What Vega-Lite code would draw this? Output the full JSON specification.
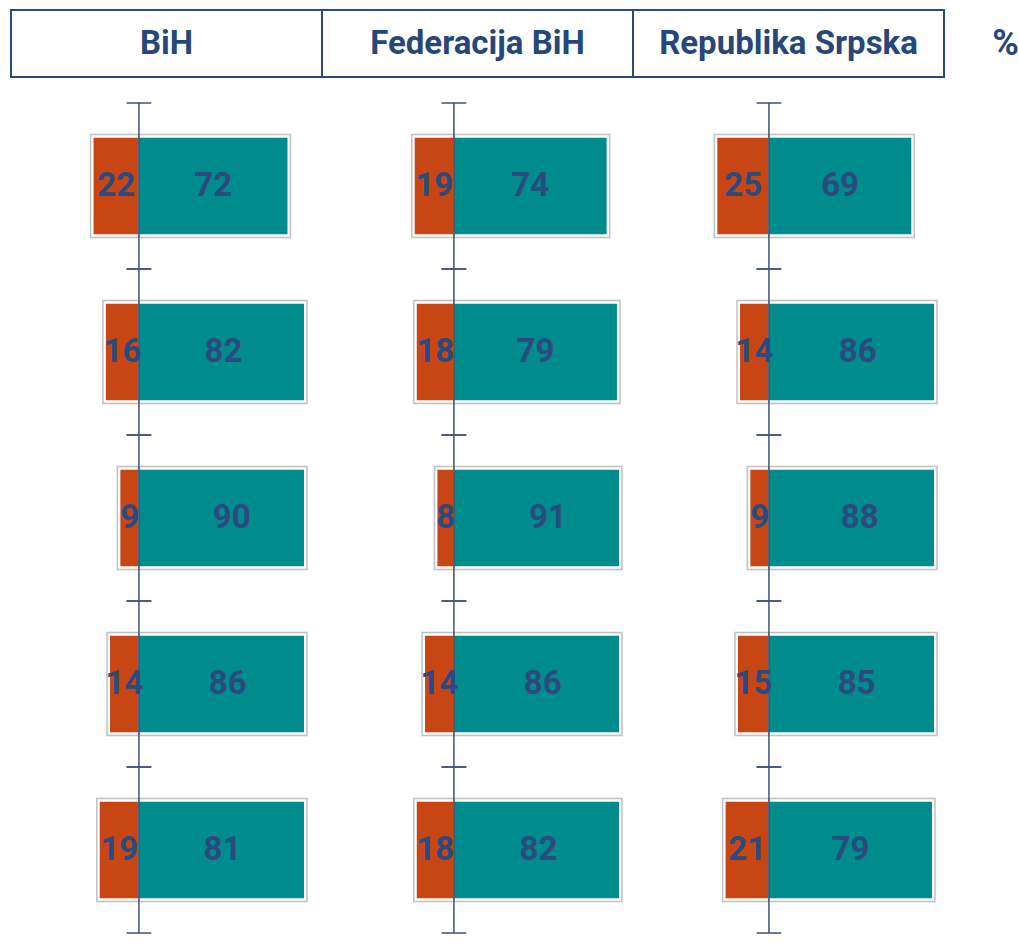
{
  "$schema": "https://vega.github.io/schema/vega-lite/v6.json",
  "padding": {"left": 10, "top": 9, "right": 0, "bottom": 0},
  "background": "white",
  "datasets": {"survey": [
    {"region": "BiH", "item": "1", "neg": 22, "pos": 72},
    {"region": "BiH", "item": "2", "neg": 16, "pos": 82},
    {"region": "BiH", "item": "3", "neg": 9, "pos": 90},
    {"region": "BiH", "item": "4", "neg": 14, "pos": 86},
    {"region": "BiH", "item": "5", "neg": 19, "pos": 81},
    {"region": "Federacija BiH", "item": "1", "neg": 19, "pos": 74},
    {"region": "Federacija BiH", "item": "2", "neg": 18, "pos": 79},
    {"region": "Federacija BiH", "item": "3", "neg": 8, "pos": 91},
    {"region": "Federacija BiH", "item": "4", "neg": 14, "pos": 86},
    {"region": "Federacija BiH", "item": "5", "neg": 18, "pos": 82},
    {"region": "Republika Srpska", "item": "1", "neg": 25, "pos": 69},
    {"region": "Republika Srpska", "item": "2", "neg": 14, "pos": 86},
    {"region": "Republika Srpska", "item": "3", "neg": 9, "pos": 88},
    {"region": "Republika Srpska", "item": "4", "neg": 15, "pos": 85},
    {"region": "Republika Srpska", "item": "5", "neg": 21, "pos": 79}
  ]},
  "data": {"name": "survey"},
  "vconcat": [
    {
      "width": 933,
      "height": 67,
      "title": {"text": "%", "orient": "right", "angle": 0, "offset": 34, "fontSize": 36, "font": "Roboto", "fontWeight": "bold", "color": "#27477A", "align": "center", "baseline": "middle"},
      "transform": [{"aggregate": [{"op": "count", "as": "n"}], "groupby": ["region"]}],
      "encoding": {
        "x": {"field": "region", "type": "nominal", "sort": ["BiH", "Federacija BiH", "Republika Srpska"], "axis": null, "scale": {"type": "band", "paddingInner": 0, "paddingOuter": 0}}
      },
      "layer": [
        {"mark": {"type": "rect", "fill": "white", "stroke": "#2B4A7A", "strokeWidth": 2}},
        {"mark": {"type": "text", "font": "Roboto", "fontWeight": "bold", "fontSize": 33, "color": "#27477A", "baseline": "middle"}, "encoding": {"text": {"field": "region"}}}
      ]
    },
    {
      "spacing": 18,
      "hconcat": [
        {
          "width": 293, "height": 830,
          "transform": [{"filter": "datum.region === 'BiH'"}],
          "encoding": {"y": {"field": "item", "type": "ordinal", "axis": null, "scale": {"type": "band", "paddingInner": 0, "paddingOuter": 0}}},
          "layer": [
            {"layer": [
              {"mark": {"type": "bar", "fill": "white", "stroke": "#C0C0C0", "strokeWidth": 1.5, "height": {"band": 0.62}, "xOffset": -3},
               "encoding": {"x": {"field": "neg", "type": "quantitative", "axis": null, "scale": {"domain": [-80, 62], "reverse": true}}, "x2": {"datum": 0, "type": "quantitative"}}},
              {"mark": {"type": "bar", "color": "#C84614", "height": {"band": 0.58}},
               "encoding": {"x": {"field": "neg", "type": "quantitative", "axis": null, "scale": {"domain": [-80, 62], "reverse": true}}, "x2": {"datum": 0, "type": "quantitative"}}}
            ]},
            {"layer": [
              {"mark": {"type": "bar", "fill": "white", "stroke": "#C0C0C0", "strokeWidth": 1.5, "height": {"band": 0.62}, "xOffset": 3},
               "encoding": {"x": {"field": "pos", "type": "quantitative", "axis": null, "scale": {"domain": [-62, 80], "clamp": true}}, "x2": {"datum": 0, "type": "quantitative"}}},
              {"mark": {"type": "bar", "color": "#008B8C", "height": {"band": 0.58}},
               "encoding": {"x": {"field": "pos", "type": "quantitative", "axis": null, "scale": {"domain": [-62, 80], "clamp": true}}, "x2": {"datum": 0, "type": "quantitative"}}},
              {"mark": {"type": "rule", "color": "#3F5277", "strokeWidth": 1.5},
               "encoding": {"x": {"datum": 0, "type": "quantitative", "axis": null, "scale": {"domain": [-62, 80], "clamp": true}}, "y": {"field": "item", "type": "ordinal", "bandPosition": 0}, "y2": {"field": "item", "bandPosition": 1}}},
              {"mark": {"type": "rule", "color": "#3F5277", "strokeWidth": 1.5},
               "encoding": {"x": {"datum": -6, "type": "quantitative", "axis": null, "scale": {"domain": [-62, 80], "clamp": true}}, "x2": {"datum": 6, "type": "quantitative"}, "y": {"field": "item", "type": "ordinal", "bandPosition": 0}}},
              {"mark": {"type": "rule", "color": "#3F5277", "strokeWidth": 1.5},
               "encoding": {"x": {"datum": -6, "type": "quantitative", "axis": null, "scale": {"domain": [-62, 80], "clamp": true}}, "x2": {"datum": 6, "type": "quantitative"}, "y": {"field": "item", "type": "ordinal", "bandPosition": 1}}}
            ]},
            {"mark": {"type": "text", "font": "Roboto", "fontWeight": "bold", "fontSize": 33, "color": "#2B4A7E", "baseline": "middle", "align": "center"},
             "encoding": {"x": {"field": "pos", "type": "quantitative", "axis": null, "scale": {"domain": [-124, 160]}}, "text": {"field": "pos"}}},
            {"mark": {"type": "text", "font": "Roboto", "fontWeight": "bold", "fontSize": 33, "color": "#2B4A7E", "baseline": "middle", "align": "center"},
             "encoding": {"x": {"field": "neg", "type": "quantitative", "axis": null, "scale": {"domain": [-160, 124], "reverse": true}}, "text": {"field": "neg"}}}
          ],
          "resolve": {"scale": {"x": "independent"}}
        },
        {
          "width": 293, "height": 830,
          "transform": [{"filter": "datum.region === 'Federacija BiH'"}],
          "encoding": {"y": {"field": "item", "type": "ordinal", "axis": null, "scale": {"type": "band", "paddingInner": 0, "paddingOuter": 0}}},
          "layer": [
            {"layer": [
              {"mark": {"type": "bar", "fill": "white", "stroke": "#C0C0C0", "strokeWidth": 1.5, "height": {"band": 0.62}, "xOffset": -3},
               "encoding": {"x": {"field": "neg", "type": "quantitative", "axis": null, "scale": {"domain": [-80, 62], "reverse": true}}, "x2": {"datum": 0, "type": "quantitative"}}},
              {"mark": {"type": "bar", "color": "#C84614", "height": {"band": 0.58}},
               "encoding": {"x": {"field": "neg", "type": "quantitative", "axis": null, "scale": {"domain": [-80, 62], "reverse": true}}, "x2": {"datum": 0, "type": "quantitative"}}}
            ]},
            {"layer": [
              {"mark": {"type": "bar", "fill": "white", "stroke": "#C0C0C0", "strokeWidth": 1.5, "height": {"band": 0.62}, "xOffset": 3},
               "encoding": {"x": {"field": "pos", "type": "quantitative", "axis": null, "scale": {"domain": [-62, 80], "clamp": true}}, "x2": {"datum": 0, "type": "quantitative"}}},
              {"mark": {"type": "bar", "color": "#008B8C", "height": {"band": 0.58}},
               "encoding": {"x": {"field": "pos", "type": "quantitative", "axis": null, "scale": {"domain": [-62, 80], "clamp": true}}, "x2": {"datum": 0, "type": "quantitative"}}},
              {"mark": {"type": "rule", "color": "#3F5277", "strokeWidth": 1.5},
               "encoding": {"x": {"datum": 0, "type": "quantitative", "axis": null, "scale": {"domain": [-62, 80], "clamp": true}}, "y": {"field": "item", "type": "ordinal", "bandPosition": 0}, "y2": {"field": "item", "bandPosition": 1}}},
              {"mark": {"type": "rule", "color": "#3F5277", "strokeWidth": 1.5},
               "encoding": {"x": {"datum": -6, "type": "quantitative", "axis": null, "scale": {"domain": [-62, 80], "clamp": true}}, "x2": {"datum": 6, "type": "quantitative"}, "y": {"field": "item", "type": "ordinal", "bandPosition": 0}}},
              {"mark": {"type": "rule", "color": "#3F5277", "strokeWidth": 1.5},
               "encoding": {"x": {"datum": -6, "type": "quantitative", "axis": null, "scale": {"domain": [-62, 80], "clamp": true}}, "x2": {"datum": 6, "type": "quantitative"}, "y": {"field": "item", "type": "ordinal", "bandPosition": 1}}}
            ]},
            {"mark": {"type": "text", "font": "Roboto", "fontWeight": "bold", "fontSize": 33, "color": "#2B4A7E", "baseline": "middle", "align": "center"},
             "encoding": {"x": {"field": "pos", "type": "quantitative", "axis": null, "scale": {"domain": [-124, 160]}}, "text": {"field": "pos"}}},
            {"mark": {"type": "text", "font": "Roboto", "fontWeight": "bold", "fontSize": 33, "color": "#2B4A7E", "baseline": "middle", "align": "center"},
             "encoding": {"x": {"field": "neg", "type": "quantitative", "axis": null, "scale": {"domain": [-160, 124], "reverse": true}}, "text": {"field": "neg"}}}
          ],
          "resolve": {"scale": {"x": "independent"}}
        },
        {
          "width": 293, "height": 830,
          "transform": [{"filter": "datum.region === 'Republika Srpska'"}],
          "encoding": {"y": {"field": "item", "type": "ordinal", "axis": null, "scale": {"type": "band", "paddingInner": 0, "paddingOuter": 0}}},
          "layer": [
            {"layer": [
              {"mark": {"type": "bar", "fill": "white", "stroke": "#C0C0C0", "strokeWidth": 1.5, "height": {"band": 0.62}, "xOffset": -3},
               "encoding": {"x": {"field": "neg", "type": "quantitative", "axis": null, "scale": {"domain": [-80, 62], "reverse": true}}, "x2": {"datum": 0, "type": "quantitative"}}},
              {"mark": {"type": "bar", "color": "#C84614", "height": {"band": 0.58}},
               "encoding": {"x": {"field": "neg", "type": "quantitative", "axis": null, "scale": {"domain": [-80, 62], "reverse": true}}, "x2": {"datum": 0, "type": "quantitative"}}}
            ]},
            {"layer": [
              {"mark": {"type": "bar", "fill": "white", "stroke": "#C0C0C0", "strokeWidth": 1.5, "height": {"band": 0.62}, "xOffset": 3},
               "encoding": {"x": {"field": "pos", "type": "quantitative", "axis": null, "scale": {"domain": [-62, 80], "clamp": true}}, "x2": {"datum": 0, "type": "quantitative"}}},
              {"mark": {"type": "bar", "color": "#008B8C", "height": {"band": 0.58}},
               "encoding": {"x": {"field": "pos", "type": "quantitative", "axis": null, "scale": {"domain": [-62, 80], "clamp": true}}, "x2": {"datum": 0, "type": "quantitative"}}},
              {"mark": {"type": "rule", "color": "#3F5277", "strokeWidth": 1.5},
               "encoding": {"x": {"datum": 0, "type": "quantitative", "axis": null, "scale": {"domain": [-62, 80], "clamp": true}}, "y": {"field": "item", "type": "ordinal", "bandPosition": 0}, "y2": {"field": "item", "bandPosition": 1}}},
              {"mark": {"type": "rule", "color": "#3F5277", "strokeWidth": 1.5},
               "encoding": {"x": {"datum": -6, "type": "quantitative", "axis": null, "scale": {"domain": [-62, 80], "clamp": true}}, "x2": {"datum": 6, "type": "quantitative"}, "y": {"field": "item", "type": "ordinal", "bandPosition": 0}}},
              {"mark": {"type": "rule", "color": "#3F5277", "strokeWidth": 1.5},
               "encoding": {"x": {"datum": -6, "type": "quantitative", "axis": null, "scale": {"domain": [-62, 80], "clamp": true}}, "x2": {"datum": 6, "type": "quantitative"}, "y": {"field": "item", "type": "ordinal", "bandPosition": 1}}}
            ]},
            {"mark": {"type": "text", "font": "Roboto", "fontWeight": "bold", "fontSize": 33, "color": "#2B4A7E", "baseline": "middle", "align": "center"},
             "encoding": {"x": {"field": "pos", "type": "quantitative", "axis": null, "scale": {"domain": [-124, 160]}}, "text": {"field": "pos"}}},
            {"mark": {"type": "text", "font": "Roboto", "fontWeight": "bold", "fontSize": 33, "color": "#2B4A7E", "baseline": "middle", "align": "center"},
             "encoding": {"x": {"field": "neg", "type": "quantitative", "axis": null, "scale": {"domain": [-160, 124], "reverse": true}}, "text": {"field": "neg"}}}
          ],
          "resolve": {"scale": {"x": "independent"}}
        }
      ]
    }
  ],
  "spacing": 24,
  "config": {"view": {"stroke": null}}
}
